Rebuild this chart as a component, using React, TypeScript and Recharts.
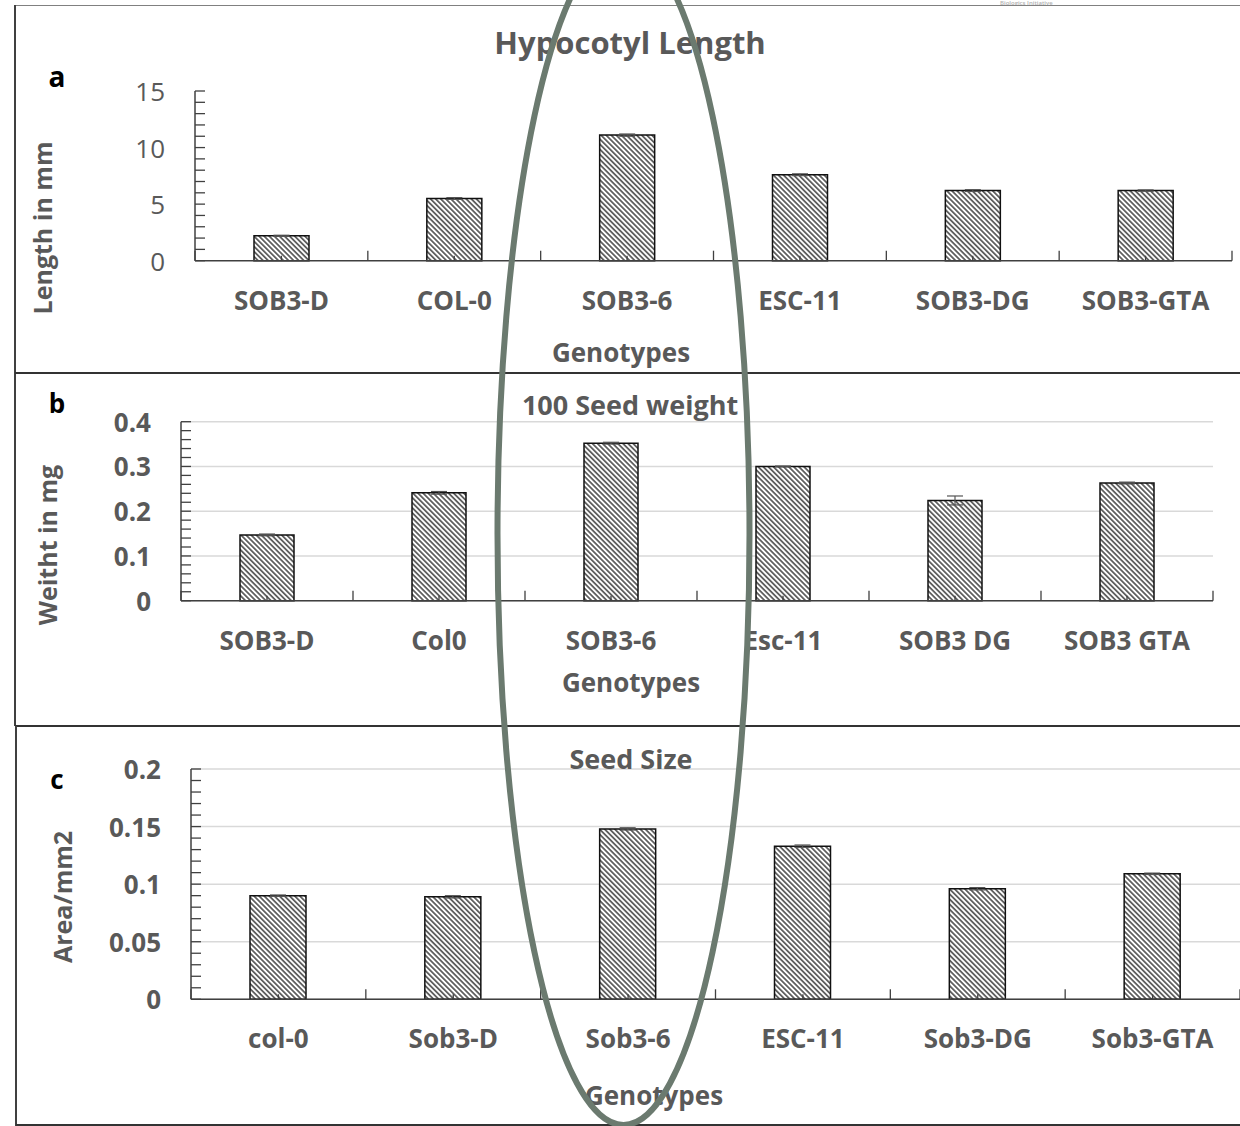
import React from 'react';
import { BarChart, Bar, XAxis, YAxis, CartesianGrid, ErrorBar } from 'recharts';

// ---------- Panel a: Hypocotyl Length ----------
const hypoCategories = ['SOB3-D', 'COL-0', 'SOB3-6', 'ESC-11', 'SOB3-DG', 'SOB3-GTA'];
const hypoValues = [2.2, 5.5, 11.1, 7.6, 6.2, 6.2];
const hypoErrors = [0.05, 0.08, 0.1, 0.08, 0.08, 0.06];
const hypoTicks = [0, 5, 10, 15];
const hypoTickLabels = ['0', '5', '10', '15'];
const hypoMinorStep = 1;

// ---------- Panel b: 100 Seed weight ----------
const weightCategories = ['SOB3-D', 'Col0', 'SOB3-6', 'Esc-11', 'SOB3 DG', 'SOB3 GTA'];
const weightValues = [0.147, 0.241, 0.352, 0.3, 0.224, 0.263];
const weightErrors = [0.002, 0.003, 0.002, 0.001, 0.01, 0.002];
const weightTicks = [0, 0.1, 0.2, 0.3, 0.4];
const weightTickLabels = ['0', '0.1', '0.2', '0.3', '0.4'];
const weightMinorStep = 0.02;

// ---------- Panel c: Seed Size ----------
const sizeCategories = ['col-0', 'Sob3-D', 'Sob3-6', 'ESC-11', 'Sob3-DG', 'Sob3-GTA'];
const sizeValues = [0.09, 0.089, 0.148, 0.133, 0.096, 0.109];
const sizeErrors = [0.0006, 0.001, 0.001, 0.001, 0.001, 0.0006];
const sizeTicks = [0, 0.05, 0.1, 0.15, 0.2];
const sizeTickLabels = ['0', '0.05', '0.1', '0.15', '0.2'];
const sizeMinorStep = 0.01;

const FONT = "'Open Sans', 'DejaVu Sans', sans-serif";
const GREY = '#595959';
const AXIS = '#404040';
const YW = 60;
const XH = 60;

type PanelProps = {
  top: number;
  height: number;
  plotLeft: number;
  plotRight: number;
  plotTop: number;
  plotBottom: number;
  barSize: number;
  categories: string[];
  values: number[];
  errors: number[];
  ticks: number[];
  tickLabels: string[];
  minorStep: number;
  grid: boolean;
  yTickWeight: number;
};

function makeMinor(max: number, step: number) {
  const n = Math.round(max / step);
  const out: number[] = [];
  for (let i = 0; i <= n; i++) out.push(+(i * step).toFixed(6));
  return out;
}

function Panel(p: PanelProps) {
  const data = p.categories.map((name, i) => ({ name, value: p.values[i], err: p.errors[i] }));
  const max = p.ticks[p.ticks.length - 1];
  const minor = makeMinor(max, p.minorStep);
  const band = (p.plotRight - p.plotLeft) / p.categories.length;
  const axisY = p.plotBottom;
  const axisX = p.plotLeft;

  const renderYTick = (props: any) => {
    const v = props.payload.value;
    const y = props.y;
    const mi = p.ticks.findIndex((t) => Math.abs(t - v) < 1e-9);
    return (
      <g>
        <line x1={axisX} x2={axisX + 10} y1={y} y2={y} stroke={AXIS} strokeWidth={1.3} />
        {mi >= 0 && (
          <text
            x={axisX - 30}
            y={y}
            textAnchor="end"
            dominantBaseline="central"
            fontFamily={FONT}
            fontSize={26}
            fontWeight={p.yTickWeight}
            fill={GREY}
          >
            {p.tickLabels[mi]}
          </text>
        )}
      </g>
    );
  };

  const renderXTick = (props: any) => {
    const cx = props.x;
    const idx = props.index;
    const last = idx === p.categories.length - 1;
    return (
      <g>
        <line x1={cx - band / 2} x2={cx - band / 2} y1={axisY} y2={axisY - 10} stroke={AXIS} strokeWidth={1.3} />
        {last && (
          <line x1={cx + band / 2} x2={cx + band / 2} y1={axisY} y2={axisY - 10} stroke={AXIS} strokeWidth={1.3} />
        )}
        <line x1={cx} x2={cx} y1={axisY} y2={axisY - 5} stroke={AXIS} strokeWidth={1.3} />
        <text
          x={cx}
          y={axisY + 49}
          textAnchor="middle"
          fontFamily={FONT}
          fontSize={26}
          fontWeight={700}
          fill={GREY}
        >
          {props.payload.value}
        </text>
      </g>
    );
  };

  return (
    <div style={{ position: 'absolute', left: 0, top: p.top, width: 1240, height: p.height }}>
      <BarChart
        width={1240}
        height={p.height}
        data={data}
        margin={{
          top: p.plotTop,
          left: p.plotLeft - YW,
          right: 1240 - p.plotRight,
          bottom: p.height - p.plotBottom - XH,
        }}
        barCategoryGap={0}
      >
        {p.grid && (
          <CartesianGrid vertical={false} horizontalValues={p.ticks} stroke="#d9d9d9" strokeWidth={1.5} />
        )}
        <XAxis
          dataKey="name"
          height={XH}
          interval={0}
          axisLine={{ stroke: AXIS, strokeWidth: 1.5 }}
          tickLine={false}
          tick={renderXTick}
        />
        <YAxis
          type="number"
          domain={[0, max]}
          ticks={minor}
          interval={0}
          width={YW}
          allowDecimals
          axisLine={{ stroke: AXIS, strokeWidth: 1.5 }}
          tickLine={false}
          tick={renderYTick}
        />
        <Bar
          dataKey="value"
          fill="url(#hatch)"
          stroke="#111"
          strokeWidth={1.5}
          barSize={p.barSize}
          isAnimationActive={false}
        >
          <ErrorBar dataKey="err" width={8} stroke="#555" strokeWidth={1.2} direction="y" />
        </Bar>
      </BarChart>
    </div>
  );
}

type TxtProps = {
  x: number;
  y: number;
  text: string;
  size: number;
  weight?: number;
  color?: string;
  rotate?: boolean;
};

function Txt({ x, y, text, size, weight = 700, color = GREY, rotate = false }: TxtProps) {
  return (
    <div
      style={{
        position: 'absolute',
        left: x,
        top: y,
        transform: `translate(-50%, -50%)${rotate ? ' rotate(-90deg)' : ''}`,
        fontFamily: FONT,
        fontSize: size,
        fontWeight: weight,
        color,
        lineHeight: 1,
        whiteSpace: 'nowrap',
      }}
    >
      {text}
    </div>
  );
}

function HLine({ x, y, w, color, t }: { x: number; y: number; w: number; color: string; t: number }) {
  return <div style={{ position: 'absolute', left: x, top: y, width: w, height: 0, borderTop: `${t}px solid ${color}` }} />;
}
function VLine({ x, y, h, color, t }: { x: number; y: number; h: number; color: string; t: number }) {
  return <div style={{ position: 'absolute', left: x, top: y, width: 0, height: h, borderLeft: `${t}px solid ${color}` }} />;
}

export default function App() {
  return (
    <div
      style={{
        position: 'absolute',
        left: 0,
        top: 0,
        width: 1240,
        height: 1126,
        background: '#fff',
        overflow: 'hidden',
      }}
    >
      <svg width={0} height={0} style={{ position: 'absolute' }}>
        <defs>
          <pattern id="hatch" patternUnits="userSpaceOnUse" width={3.6} height={3.6} patternTransform="rotate(-45)">
            <rect width={3.6} height={3.6} fill="#fff" />
            <line x1={1.8} y1={0} x2={1.8} y2={3.6} stroke="#222" strokeWidth={1.3} />
          </pattern>
        </defs>
      </svg>

      {/* faint small text at top right */}
      <div
        style={{
          position: 'absolute',
          left: 1000,
          top: 0,
          fontFamily: FONT,
          fontSize: 6,
          fontWeight: 600,
          color: '#b0b0b0',
          whiteSpace: 'nowrap',
          lineHeight: 1,
        }}
      >
        Biologics Initiative
      </div>

      <Panel
        top={0}
        height={373}
        plotLeft={195}
        plotRight={1232}
        plotTop={91}
        plotBottom={260.7}
        barSize={55}
        categories={hypoCategories}
        values={hypoValues}
        errors={hypoErrors}
        ticks={hypoTicks}
        tickLabels={hypoTickLabels}
        minorStep={hypoMinorStep}
        grid={false}
        yTickWeight={400}
      />
      <Panel
        top={373}
        height={353}
        plotLeft={181}
        plotRight={1213}
        plotTop={48.7}
        plotBottom={227.7}
        barSize={54}
        categories={weightCategories}
        values={weightValues}
        errors={weightErrors}
        ticks={weightTicks}
        tickLabels={weightTickLabels}
        minorStep={weightMinorStep}
        grid
        yTickWeight={700}
      />
      <Panel
        top={726}
        height={400}
        plotLeft={191}
        plotRight={1240}
        plotTop={43}
        plotBottom={273.3}
        barSize={56}
        categories={sizeCategories}
        values={sizeValues}
        errors={sizeErrors}
        ticks={sizeTicks}
        tickLabels={sizeTickLabels}
        minorStep={sizeMinorStep}
        grid
        yTickWeight={700}
      />

      {/* frames */}
      <HLine x={15} y={5} w={1225} color="#808080" t={1.5} />
      <VLine x={14} y={5} h={721} color="#404040" t={2} />
      <HLine x={15} y={372} w={1225} color="#333" t={2} />
      <HLine x={15} y={725} w={1225} color="#333" t={2} />
      <VLine x={15} y={726} h={400} color="#404040" t={2} />
      <HLine x={16} y={1124} w={1224} color="#333" t={2} />

      {/* panel a texts */}
      <Txt x={57} y={76} text="a" size={28} color="#000" />
      <Txt x={630} y={42} text="Hypocotyl Length" size={31} />
      <Txt x={42} y={228} text="Length in mm" size={25} rotate />
      <Txt x={621} y={352} text="Genotypes" size={26} />

      {/* panel b texts */}
      <Txt x={57} y={403} text="b" size={26} color="#000" />
      <Txt x={630} y={404} text="100 Seed weight" size={27} />
      <Txt x={47} y={545} text="Weitht in mg" size={25} rotate />
      <Txt x={631} y={682} text="Genotypes" size={26} />

      {/* panel c texts */}
      <Txt x={57} y={779} text="c" size={26} color="#000" />
      <Txt x={631} y={758} text="Seed Size" size={27} />
      <Txt x={62} y={897} text="Area/mm2" size={25} rotate />
      <Txt x={654} y={1095} text="Genotypes" size={26} />

      {/* highlight ellipse */}
      <svg
        width={1240}
        height={1126}
        style={{ position: 'absolute', left: 0, top: 0, pointerEvents: 'none' }}
      >
        <ellipse cx={623.5} cy={534} rx={126} ry={591} fill="none" stroke="#6b7a6f" strokeWidth={6} />
      </svg>
    </div>
  );
}
